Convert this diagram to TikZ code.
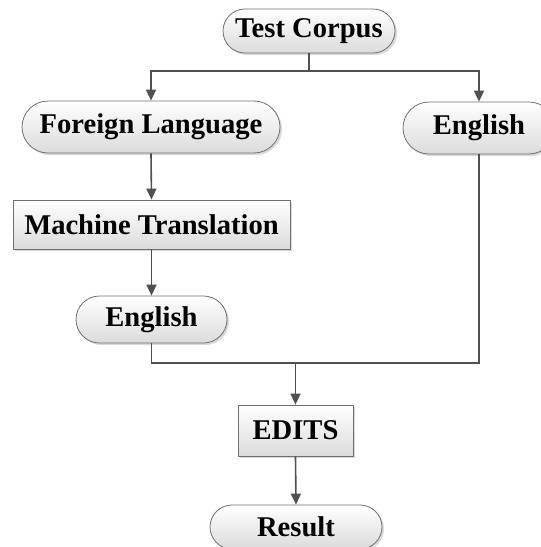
\documentclass[tikz,border=0pt]{standalone}
\usepackage{fontspec}
\setmainfont{Liberation Serif}
\usetikzlibrary{arrows.meta,shadows,positioning}
\definecolor{linec}{HTML}{505050}
\definecolor{edgec}{HTML}{707070}
\tikzset{
  base/.style={draw=edgec, line width=0.8pt, top color=white, bottom color=black!14,
    font=\fontsize{28.6}{30}\selectfont\bfseries, inner sep=0pt,
    drop shadow={shadow xshift=2pt, shadow yshift=-2pt, opacity=0.25, fill=black!60}},
  pill/.style={base, rounded corners=#1},
  boxn/.style={base},
  conn/.style={draw=linec, line width=1.6pt},
  arr/.style={conn, -{Triangle[length=11pt,width=10pt]}}
}
\begin{document}
\begin{tikzpicture}[x=1pt,y=1pt]
\useasboundingbox (0,0) rectangle (541,-547);
\clip (0,0) rectangle (541,-547);
\node[pill=22pt, minimum width=172pt, minimum height=44pt] (tc) at (309,-31) {Test Corpus};
\node[pill=26pt, minimum width=258pt, minimum height=52pt] (fl) at (151,-127) {Foreign Language};
\node[pill=26pt, minimum width=152pt, minimum height=52pt] (enr) at (479,-128) {English};
\node[boxn, minimum width=277pt, minimum height=49pt] (mt) at (151.5,-224.5) {Machine Translation};
\node[pill=23.5pt, minimum width=151pt, minimum height=47pt] (en2) at (151.5,-319.5) {English};
\node[boxn, minimum width=115pt, minimum height=51pt] (ed) at (295.5,-430.5) {EDITS};
\node[pill=22pt, minimum width=172pt, minimum height=44pt] (res) at (296,-527) {Result};
\coordinate (j1) at (tc.south |- 0,-71);
\coordinate (j2) at (ed.north |- 0,-363);
\draw[conn] (tc.south) -- (j1);
\draw[arr] (j1) -| (fl.north);
\draw[arr] (j1) -| (enr.north);
\draw[arr] (fl.south) -- (mt.north);
\draw[arr] (mt.south) -- (en2.north);
\draw[conn] (en2.south) |- (j2);
\draw[conn] (enr.south) |- (j2);
\draw[arr] (j2) -- (ed.north);
\draw[arr] (ed.south) -- (res.north);
\end{tikzpicture}
\end{document}
